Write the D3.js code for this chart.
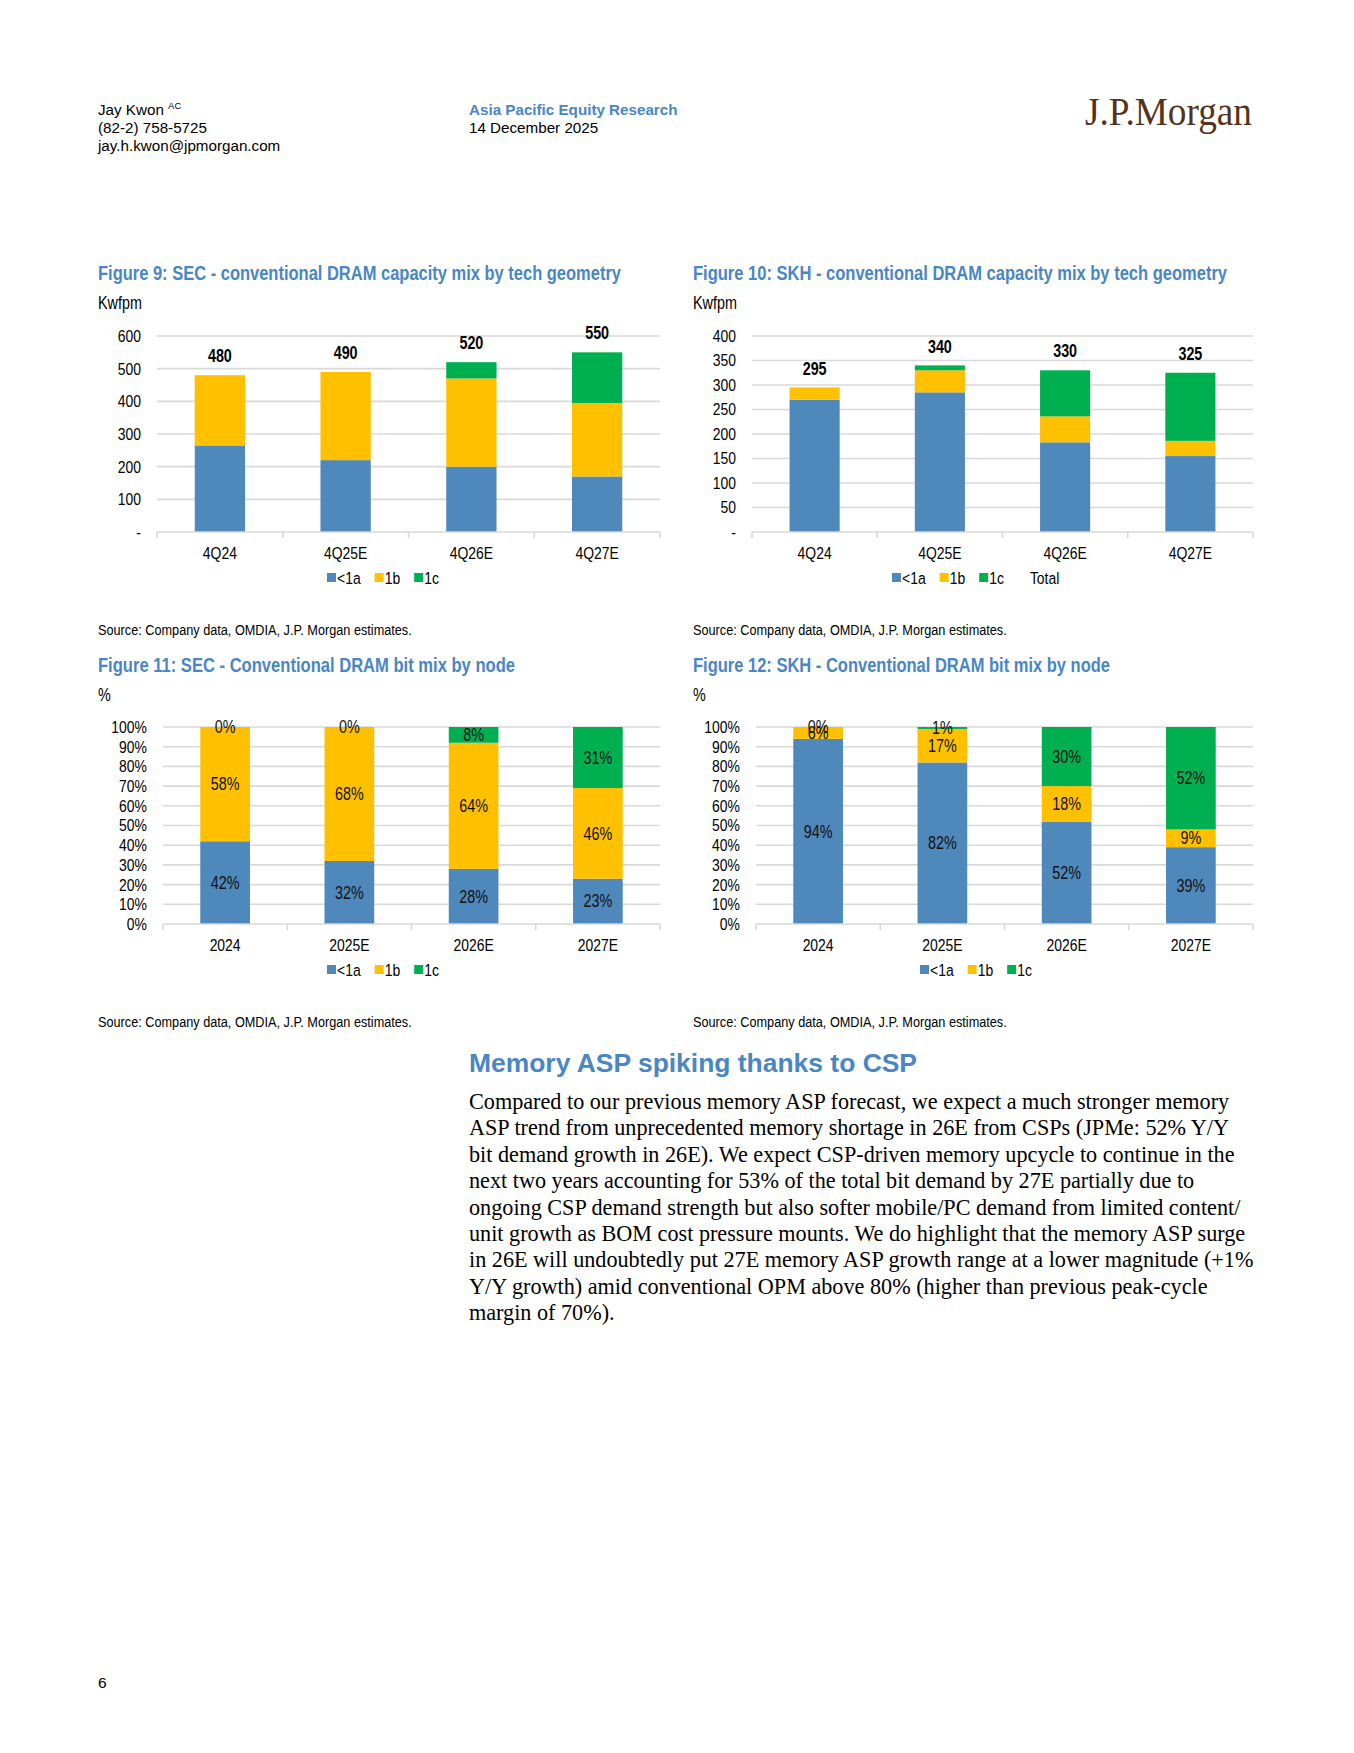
<!DOCTYPE html>
<html>
<head>
<meta charset="utf-8">
<script src="https://cdn.jsdelivr.net/npm/d3@7"></script>
<style>
  body { margin: 0; background: #fff; }
  svg text { font-family: "Liberation Sans Narrow", "Arial Narrow", "Liberation Sans", Arial, sans-serif; }
</style>
</head>
<body>
<div id="page"></div>
<script>
// ---- data ----
const capCategories = ["4Q24", "4Q25E", "4Q26E", "4Q27E"];
const bitCategories = ["2024", "2025E", "2026E", "2027E"];
const nodeNames = ["<1a", "1b", "1c"];

// Figure 9: SEC capacity (Kwfpm)
const secCap1a = [265, 220, 200, 170];
const secCap1b = [215, 270, 270, 225];
const secCap1c = [0, 0, 50, 155];
const secCapTotal = [480, 490, 520, 550];
const secCapTicks = [0, 100, 200, 300, 400, 500, 600];

// Figure 10: SKH capacity (Kwfpm)
const skhCap1a = [270, 285, 183, 155];
const skhCap1b = [25, 45, 53, 31];
const skhCap1c = [0, 10, 94, 139];
const skhCapTotal = [295, 340, 330, 325];
const skhCapTicks = [0, 50, 100, 150, 200, 250, 300, 350, 400];

// Figure 11: SEC bit mix (%)
const secBit1a = [42, 32, 28, 23];
const secBit1b = [58, 68, 64, 46];
const secBit1c = [0, 0, 8, 31];

// Figure 12: SKH bit mix (%)
const skhBit1a = [94, 82, 52, 39];
const skhBit1b = [6, 17, 18, 9];
const skhBit1c = [0, 1, 30, 52];

const pctTicks = [0, 10, 20, 30, 40, 50, 60, 70, 80, 90, 100];

const bodyLines = [
  "Compared to our previous memory ASP forecast, we expect a much stronger memory",
  "ASP trend from unprecedented memory shortage in 26E from CSPs (JPMe: 52% Y/Y",
  "bit demand growth in 26E). We expect CSP-driven memory upcycle to continue in the",
  "next two years accounting for 53% of the total bit demand by 27E partially due to",
  "ongoing CSP demand strength but also softer mobile/PC demand from limited content/",
  "unit growth as BOM cost pressure mounts. We do highlight that the memory ASP surge",
  "in 26E will undoubtedly put 27E memory ASP growth range at a lower magnitude (+1%",
  "Y/Y growth) amid conventional OPM above 80% (higher than previous peak-cycle",
  "margin of 70%)."
];

// ---- page ----
const W = 1354, H = 1753;
const blueTitle = "#4a86c4";
const K = 0.82; // horizontal squeeze, stands in for Arial Narrow
const color = d3.scaleOrdinal().domain(nodeNames).range(["#4f88bb", "#ffc000", "#00b050"]);

const svg = d3.select("#page").append("svg").attr("width", W).attr("height", H);

// move x/y into a transform so text can be narrowed
function squeeze(sel) {
  sel.each(function() {
    const t = d3.select(this), x = +t.attr("x"), y = +t.attr("y");
    t.attr("x", 0).attr("y", 0).attr("transform", `translate(${x},${y}) scale(${K},1)`);
  });
  return sel;
}

// header
const hdr = svg.append("g").style("font-size", "15.2px");
hdr.append("text").attr("x", 98).attr("y", 115).style("font-family", "Liberation Sans, Arial").text("Jay Kwon ")
   .append("tspan").attr("dy", -6).style("font-size", "9.5px").text("AC");
hdr.append("text").attr("x", 98).attr("y", 133).style("font-family", "Liberation Sans, Arial").text("(82-2) 758-5725");
hdr.append("text").attr("x", 98).attr("y", 151).style("font-family", "Liberation Sans, Arial").text("jay.h.kwon@jpmorgan.com");
hdr.append("text").attr("x", 469).attr("y", 115).style("font-family", "Liberation Sans, Arial").style("font-weight", "bold")
   .attr("fill", blueTitle).text("Asia Pacific Equity Research");
hdr.append("text").attr("x", 469).attr("y", 133).style("font-family", "Liberation Sans, Arial").text("14 December 2025");
svg.append("text").attr("x", 1085).attr("y", 125).attr("textLength", 167).attr("lengthAdjust", "spacingAndGlyphs")
   .style("font-family", "Liberation Serif, DejaVu Serif, serif").style("font-size", "40px").attr("fill", "#55331b")
   .text("J.P.Morgan");

// stacked bar chart
function stackedChart(cfg) {
  const g = svg.append("g");
  const rows = cfg.categories.map((c, i) => ({cat: c, "<1a": cfg.s1a[i], "1b": cfg.s1b[i], "1c": cfg.s1c[i]}));
  const series = d3.stack().keys(nodeNames)(rows);

  const x = d3.scaleBand().domain(cfg.categories).range([cfg.x0, cfg.x1]).paddingInner(0.6).paddingOuter(0.3);
  const y = d3.scaleLinear().domain([0, d3.max(cfg.ticks)]).range([cfg.yBottom, cfg.yTop]);
  const step = x.step();

  // title & unit
  g.append("text").attr("x", cfg.tx).attr("y", cfg.titleY).attr("textLength", cfg.titleW).attr("lengthAdjust", "spacingAndGlyphs")
   .style("font-size", "19.5px").style("font-weight", "bold").attr("fill", blueTitle).text(cfg.title);
  squeeze(g.append("text").attr("x", cfg.tx).attr("y", cfg.titleY + 29).style("font-size", "17.5px").text(cfg.unit));

  // gridlines
  g.selectAll(".grid").data(cfg.ticks.filter(d => d > 0)).join("line")
   .attr("x1", cfg.x0).attr("x2", cfg.x1).attr("y1", d => y(d)).attr("y2", d => y(d))
   .attr("stroke", "#d9d9d9").attr("stroke-width", 1.6);

  // y tick labels
  squeeze(g.selectAll(".ytl").data(cfg.ticks).join("text")
   .attr("x", cfg.x0 - 16).attr("y", d => y(d)).attr("dy", "0.35em").attr("text-anchor", "end")
   .style("font-size", "17px").text(cfg.fmt));

  // bars
  g.selectAll(".layer").data(series).join("g").attr("fill", d => color(d.key))
   .selectAll("rect").data(d => d).join("rect")
   .attr("x", d => x(d.data.cat)).attr("width", x.bandwidth())
   .attr("y", d => y(d[1])).attr("height", d => y(d[0]) - y(d[1]));

  // x axis line + ticks
  g.append("line").attr("x1", cfg.x0).attr("x2", cfg.x1).attr("y1", cfg.yBottom).attr("y2", cfg.yBottom)
   .attr("stroke", "#d9d9d9").attr("stroke-width", 1.6);
  g.selectAll(".xt").data(d3.range(cfg.categories.length + 1)).join("line")
   .attr("x1", i => cfg.x0 + i * step).attr("x2", i => cfg.x0 + i * step)
   .attr("y1", cfg.yBottom).attr("y2", cfg.yBottom + 6).attr("stroke", "#d9d9d9").attr("stroke-width", 1.6);
  squeeze(g.selectAll(".xl").data(cfg.categories).join("text")
   .attr("x", d => x(d) + x.bandwidth() / 2).attr("y", cfg.yBottom + 21).attr("dy", "0.35em")
   .attr("text-anchor", "middle").style("font-size", "17px").text(d => d));

  // totals
  if (cfg.totals) {
    squeeze(g.selectAll(".tot").data(cfg.totals).join("text")
     .attr("x", (d, i) => x(cfg.categories[i]) + x.bandwidth() / 2).attr("y", d => y(d) - 19).attr("dy", "0.35em")
     .attr("text-anchor", "middle").style("font-size", "17.5px").style("font-weight", "bold").text(d => d));
  }

  // segment labels
  if (cfg.segLabels) {
    series.forEach(s => {
      squeeze(g.selectAll(null).data(s).join("text")
       .attr("x", d => x(d.data.cat) + x.bandwidth() / 2).attr("y", d => y((d[0] + d[1]) / 2)).attr("dy", "0.35em")
       .attr("text-anchor", "middle").style("font-size", "17.5px").attr("fill", "#111")
       .text(d => (d[1] - d[0]) + "%"));
    });
  }

  // legend
  const lg = g.append("g").attr("transform", `translate(${cfg.lx},${cfg.ly})`);
  const items = nodeNames.concat(cfg.extraLegend ? [cfg.extraLegend] : []);
  let cx = 0;
  items.forEach((name, i) => {
    if (i < 3) {
      lg.append("rect").attr("x", cx).attr("y", -5).attr("width", 9).attr("height", 9).attr("fill", color(name));
      cx += 10;
    } else {
      cx += 12;
    }
    const t = lg.append("text").attr("x", cx).attr("y", 0).attr("dy", "0.35em").style("font-size", "17px").text(name);
    const len = t.node().getComputedTextLength() * K;
    squeeze(t);
    cx += len + 14;
  });

  // source
  squeeze(g.append("text").attr("x", cfg.tx).attr("y", cfg.sourceY).attr("dy", "0.35em").style("font-size", "15.5px")
   .text("Source: Company data, OMDIA, J.P. Morgan estimates."));
}

const capFmt = d => d === 0 ? "-" : d;
const pctFmt = d => d + "%";

stackedChart({title: "Figure 9: SEC - conventional DRAM capacity mix by tech geometry", titleW: 523, unit: "Kwfpm",
  categories: capCategories, s1a: secCap1a, s1b: secCap1b, s1c: secCap1c, totals: secCapTotal, ticks: secCapTicks, fmt: capFmt,
  tx: 98, titleY: 280, x0: 157, x1: 660, yTop: 336, yBottom: 532, lx: 327, ly: 578, sourceY: 630});

stackedChart({title: "Figure 10: SKH - conventional DRAM capacity mix by tech geometry", titleW: 534, unit: "Kwfpm",
  categories: capCategories, s1a: skhCap1a, s1b: skhCap1b, s1c: skhCap1c, totals: skhCapTotal, ticks: skhCapTicks, fmt: capFmt,
  extraLegend: "Total",
  tx: 693, titleY: 280, x0: 752, x1: 1253, yTop: 336, yBottom: 532, lx: 892, ly: 578, sourceY: 630});

stackedChart({title: "Figure 11: SEC - Conventional DRAM bit mix by node", titleW: 417, unit: "%",
  categories: bitCategories, s1a: secBit1a, s1b: secBit1b, s1c: secBit1c, segLabels: true, ticks: pctTicks, fmt: pctFmt,
  tx: 98, titleY: 672, x0: 163, x1: 660, yTop: 727, yBottom: 924, lx: 327, ly: 970, sourceY: 1022});

stackedChart({title: "Figure 12: SKH - Conventional DRAM bit mix by node", titleW: 417, unit: "%",
  categories: bitCategories, s1a: skhBit1a, s1b: skhBit1b, s1c: skhBit1c, segLabels: true, ticks: pctTicks, fmt: pctFmt,
  tx: 693, titleY: 672, x0: 756, x1: 1253, yTop: 727, yBottom: 924, lx: 920, ly: 970, sourceY: 1022});

// body
svg.append("text").attr("x", 469).attr("y", 1072).attr("textLength", 448).attr("lengthAdjust", "spacingAndGlyphs")
   .style("font-size", "25px").style("font-weight", "bold").attr("fill", blueTitle).text("Memory ASP spiking thanks to CSP");
svg.append("g").selectAll("text").data(bodyLines).join("text")
   .attr("x", 469).attr("y", (d, i) => 1109 + i * 26.4)
   .style("font-family", "Liberation Serif, 'Times New Roman', serif").style("font-size", "22.2px")
   .text(d => d);

svg.append("text").attr("x", 98).attr("y", 1688).style("font-family", "Liberation Sans, Arial").style("font-size", "15.5px").text("6");
</script>
</body>
</html>
